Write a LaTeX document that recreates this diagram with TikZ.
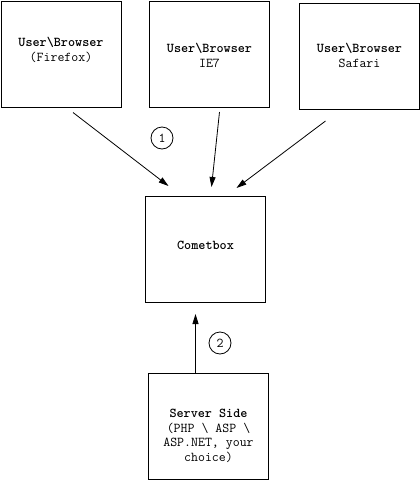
\documentclass[tikz,border=0pt]{standalone}
\usepackage{fontspec}
\usetikzlibrary{arrows.meta,calc}
\begin{document}
\begin{tikzpicture}[x=1pt,y=-1pt,
  box/.style={draw,line width=1pt,minimum width=120pt,minimum height=106pt,inner sep=0pt,anchor=north west},
  txt/.style={font=\ttfamily\fontsize{13.5pt}{14.6pt}\selectfont,align=center,inner sep=0pt},
  num/.style={draw,circle,line width=0.8pt,minimum size=22pt,inner sep=0pt,font=\ttfamily\fontsize{13.5pt}{14pt}\selectfont},
  arr/.style={line width=0.8pt,-{Triangle[length=10pt,width=6pt]}}]
\useasboundingbox (0,0) rectangle (420,480);
\node[box] (b1) at (0.5,0.5) {};
\node[box] (b2) at (149,1) {};
\node[box] (b3) at (299,3) {};
\node[box] (cb) at (145,196) {};
\node[box] (sv) at (148,372.5) {};
\node[txt] (t1) at ($(b1.center)+(0,-4)$) {\textbf{User\textbackslash Browser}\\(Firefox)};
\node[txt] (t2) at ($(b2.center)+(0,1)$) {\textbf{User\textbackslash Browser}\\IE7};
\node[txt] (t3) at ($(b3.center)+(0,-1)$) {\textbf{User\textbackslash Browser}\\Safari};
\node[txt] (t4) at ($(cb.center)+(0,-4)$) {\textbf{Cometbox}};
\node[txt] (t5) at ($(sv.center)+(0,10)$) {\textbf{Server Side}\\(PHP \textbackslash{} ASP \textbackslash\\ASP.NET, your\\choice)};
\coordinate (s1) at ($(b1.south)+(12,5)$);
\coordinate (e1) at ($(cb.north)+(-37,-10)$);
\coordinate (s2) at ($(b2.south)+(10,4)$);
\coordinate (e2) at ($(cb.north)+(6,-9)$);
\coordinate (s3) at ($(b3.south)+(-34,11)$);
\coordinate (e3) at ($(cb.north)+(31,-8)$);
\coordinate (s4) at ($(sv.north)+(-13,0)$);
\coordinate (e4) at ($(cb.south)+(-10,11)$);
\draw[arr] (s1) -- (e1);
\draw[arr] (s2) -- (e2);
\draw[arr] (s3) -- (e3);
\draw[arr] (s4) -- (e4);
\node[num] (n1) at (162,138) {1};
\node[num] (n2) at (220,343) {2};
\end{tikzpicture}
\end{document}
